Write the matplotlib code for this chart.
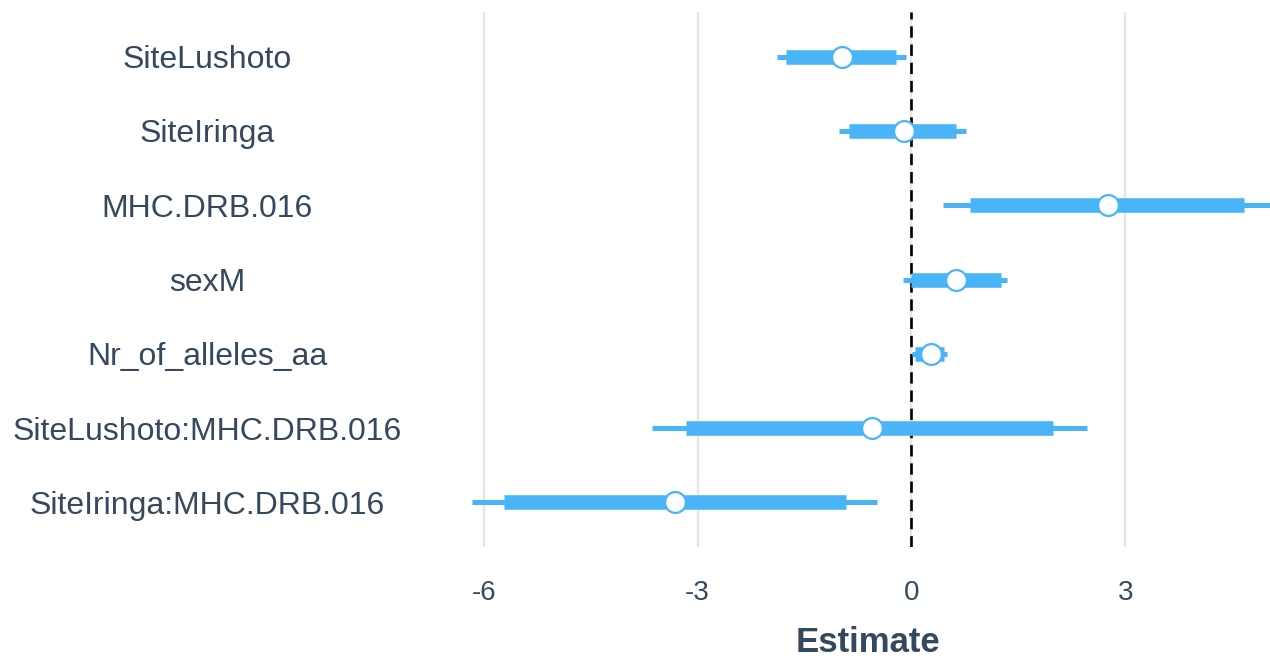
import matplotlib
matplotlib.use("Agg")
import matplotlib.pyplot as plt

# Model terms, top to bottom
terms = [
    "SiteLushoto",
    "SiteIringa",
    "MHC.DRB.016",
    "sexM",
    "Nr_of_alleles_aa",
    "SiteLushoto:MHC.DRB.016",
    "SiteIringa:MHC.DRB.016",
]
# Posterior estimates with inner (50%) and outer (95%) intervals
estimate = [-0.98, -0.11, 2.76, 0.63, 0.27, -0.56, -3.32]
inner_lo = [-1.76, -0.88, 0.82, -0.01, 0.05, -3.16, -5.71]
inner_hi = [-0.22, 0.62, 4.66, 1.25, 0.45, 1.98, -0.92]
outer_lo = [-1.89, -1.02, 0.44, -0.12, 0.01, -3.64, -6.16]
outer_hi = [-0.08, 0.76, 5.10, 1.34, 0.50, 2.46, -0.48]
x_ticks = [-6, -3, 0, 3]

blue = "#4AB4F8"
text_col = "#34495E"

W, H = 1270, 665
fig = plt.figure(figsize=(W / 100, H / 100), dpi=100)
fig.patch.set_facecolor("white")

left, right, top, bottom = 432, 1305, 12, 547
ax = fig.add_axes([left / W, (H - bottom) / H, (right - left) / W, (bottom - top) / H])
ax.set_facecolor("white")

for s in ax.spines.values():
    s.set_visible(False)

ax.set_xlim(-6.725, 5.52)
ax.set_ylim(len(terms) - 1 + 0.6, -0.6)

for xt in x_ticks:
    ax.axvline(xt, color="#E6E6E6", lw=1.7, zorder=0)

ax.axvline(0, color="black", lw=1.9, dashes=(4.3, 2.6), zorder=1)

ypos = list(range(len(terms)))
ax.hlines(ypos, outer_lo, outer_hi, color=blue, lw=3.6, zorder=2)
ax.hlines(ypos, inner_lo, inner_hi, color=blue, lw=10.5, zorder=3)
ax.plot(estimate, ypos, "o", ms=15, mfc="white", mec=blue, mew=1.6,
        linestyle="none", zorder=4)

ax.set_yticks(ypos)
ax.set_yticklabels(terms, fontsize=23, color=text_col, family="Liberation Sans")
ax.tick_params(axis="y", length=0, pad=162)
for lab in ax.get_yticklabels():
    lab.set_horizontalalignment("center")

ax.set_xticks(x_ticks)
ax.set_xticklabels([str(v) for v in x_ticks], fontsize=20, color=text_col,
                   family=["Liberation Sans Narrow", "Liberation Sans"])
ax.tick_params(axis="x", length=0, pad=24)

ax.set_xlabel("Estimate", fontsize=25, fontweight="bold", color=text_col,
              family=["Liberation Sans Narrow", "Liberation Sans"], labelpad=14)

fig.savefig("out.png", dpi=100, facecolor="white")
